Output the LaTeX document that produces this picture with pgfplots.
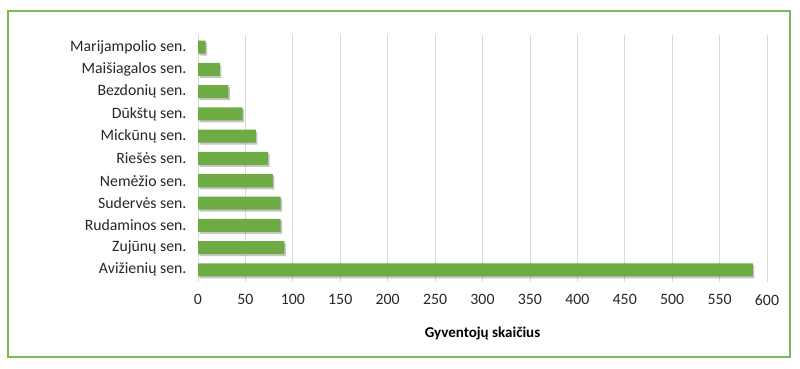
\documentclass[border=0pt]{standalone}
\usepackage{fontspec}
\setmainfont{Carlito}
\usepackage{pgfplots}
\pgfplotsset{compat=1.18}
\usetikzlibrary{shadows}
\definecolor{bargreen}{HTML}{6DAB45}
\definecolor{framegreen}{HTML}{7CB857}
\definecolor{txt}{HTML}{262626}
\begin{document}
\begin{tikzpicture}[x=1pt,y=1pt]
\useasboundingbox (0,0) rectangle (800,369);
\draw[framegreen, line width=2pt] (8,12) rectangle (790,358);
\begin{axis}[
  at={(198pt,87pt)}, anchor=south west,
  scale only axis, width=569pt, height=247pt,
  xbar, bar width=13pt,
  xmin=0, xmax=600, ymin=-0.55, ymax=10.55,
  xtick={0,50,...,600},
  ytick={0,...,10},
  yticklabels={Avižienių sen.,Zujūnų sen.,Rudaminos sen.,Sudervės sen.,Nemėžio sen.,Riešės sen.,Mickūnų sen.,Dūkštų sen.,Bezdonių sen.,Maišiagalos sen.,Marijampolio sen.},
  xmajorgrids, major grid style={draw=black!15, line width=0.8pt},
  axis line style={draw=none},
  major tick length=0pt,
  tick label style={font=\fontsize{15.8}{17}\selectfont, text=txt},
  /pgf/number format/assume math mode=true,
  yticklabel style={xshift=-8pt},
  xticklabel style={yshift=-9pt},
  xlabel={Gyventojų skaičius},
  xlabel style={font=\bfseries\fontsize{15}{17}\selectfont, text=black, yshift=-15pt},
]
\addplot[draw=none, fill=bargreen,
  drop shadow={shadow xshift=1.5pt, shadow yshift=-2pt, opacity=0.45}]
coordinates {(585,0) (91,1) (87,2) (87,3) (79,4) (74,5) (61,6) (47,7) (32,8) (23,9) (8,10)};
\end{axis}
\end{tikzpicture}
\end{document}
